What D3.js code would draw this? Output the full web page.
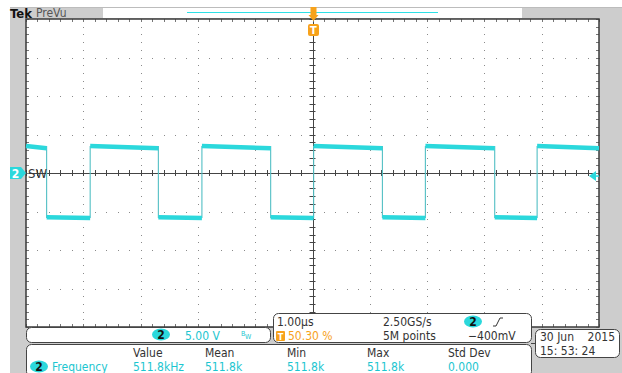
<!DOCTYPE html>
<html>
<head>
<meta charset="utf-8">
<script src="https://cdn.jsdelivr.net/npm/d3@7"></script>
<style>
  html, body { margin: 0; padding: 0; background: #fff; }
  svg { display: block; }
  text { font-family: "DejaVu Sans Condensed", "Liberation Sans Narrow", "DejaVu Sans", sans-serif; font-stretch: condensed; }
</style>
</head>
<body>
<svg id="scope" width="622" height="373"></svg>
<script>
// ---- acquisition: channel 2 (SW node), 1.00 µs/div, 5.00 V/div ----
const timeDomain = [-5, 5];          // µs, 10 horizontal divisions
const voltDomain = [-20, 20];        // V, 8 vertical divisions at 5 V/div
const fallTimes = [-4.64, -2.69, -0.73, 1.22, 3.18];   // µs
const riseTimes = [-3.88, -1.93, 0.02, 1.97, 3.92];    // µs
const highStartV = 3.5, highEndV = 3.2;                // V, top of pulse (slight droop)
const lowStartV = -5.75, lowEndV = -5.85;              // V, bottom of pulse
const triggerLevelV = -0.4;                            // V
const triggerTime = 0;                                 // µs

// ---- readouts ----
const measHeaders = ["Value", "Mean", "Min", "Max", "Std Dev"];
const measValues = ["511.8kHz", "511.8k", "511.8k", "511.8k", "0.000"];
const measName = "Frequency";
const chScale = "5.00 V";
const timebase = ["1.00\u00b5s", "50.30 %"];
const sampling = ["2.50GS/s", "5M points"];
const trigReadout = "\u2212400mV";
const dateLines = [["30 Jun", "2015"], ["15: 53: 24"]];

const W = 622, H = 373;
const plot = { left: 26, right: 599, top: 19, bottom: 327 };
const CYAN = "#2bd8dc", CYAN_TXT = "#1cc6d0", ORANGE = "#f7a21b", GRAY = "#cdcdcd", FRAME = "#3a3a3a";

const svg = d3.select("#scope");
const x = d3.scaleLinear().domain(timeDomain).range([plot.left, plot.right]);
const y = d3.scaleLinear().domain(voltDomain).range([plot.bottom, plot.top]);

// instrument background
svg.append("rect").attr("x", 10).attr("y", 7).attr("width", W - 10).attr("height", H - 7).attr("fill", GRAY);
svg.append("line").attr("x1", 10).attr("x2", W).attr("y1", 7.5).attr("y2", 7.5).attr("stroke", "#bcbcbc");

// header: record view bar
svg.append("rect").attr("x", 103).attr("y", 8).attr("width", 419).attr("height", 10).attr("fill", "#fff");
svg.append("line").attr("x1", 187).attr("x2", 438).attr("y1", 12.5).attr("y2", 12.5).attr("stroke", "#2ee0e6").attr("stroke-width", 1.2);
svg.append("text").attr("x", 10).attr("y", 17.5).attr("font-size", 13).attr("font-weight", "bold")
  .attr("font-family", "Liberation Serif, serif").attr("fill", "#111").text("Tek");
svg.append("text").attr("x", 36).attr("y", 17).attr("font-size", 12).attr("fill", "#555").text("PreVu");

// graticule area
svg.append("rect").attr("x", plot.left).attr("y", plot.top).attr("width", plot.right - plot.left)
  .attr("height", plot.bottom - plot.top).attr("fill", "#fff");

const g = svg.append("g");
const minorX = d3.range(0, 51).map(i => timeDomain[0] + i * 0.2);
const minorY = d3.range(0, 41).map(i => voltDomain[0] + i * 1);
const majorX = d3.range(-4, 5).filter(v => v !== 0);
const majorY = d3.range(-15, 20, 5).filter(v => v !== 0);

// dotted grid
majorX.forEach(t => {
  g.selectAll(null).data(minorY).enter().append("rect")
    .attr("x", Math.round(x(t))).attr("y", d => Math.round(y(d))).attr("width", 1).attr("height", 1).attr("fill", "#8a8a8a");
});
majorY.forEach(v => {
  g.selectAll(null).data(minorX).enter().append("rect")
    .attr("x", d => Math.round(x(d))).attr("y", Math.round(y(v))).attr("width", 1).attr("height", 1).attr("fill", "#8a8a8a");
});

// centre cross with minor ticks
g.append("line").attr("x1", plot.left).attr("x2", plot.right).attr("y1", Math.round(y(0)) + 0.5).attr("y2", Math.round(y(0)) + 0.5).attr("stroke", "#444");
g.append("line").attr("y1", plot.top).attr("y2", plot.bottom).attr("x1", Math.round(x(0)) + 0.5).attr("x2", Math.round(x(0)) + 0.5).attr("stroke", "#444");
g.selectAll(null).data(minorX).enter().append("line")
  .attr("x1", d => Math.round(x(d)) + 0.5).attr("x2", d => Math.round(x(d)) + 0.5)
  .attr("y1", y(0) - 3).attr("y2", y(0) + 3).attr("stroke", "#444");
g.selectAll(null).data(minorY).enter().append("line")
  .attr("y1", d => Math.round(y(d)) + 0.5).attr("y2", d => Math.round(y(d)) + 0.5)
  .attr("x1", x(0) - 3).attr("x2", x(0) + 3).attr("stroke", "#444");

// border ticks
g.selectAll(null).data(minorX).enter().append("line")
  .attr("x1", d => Math.round(x(d)) + 0.5).attr("x2", d => Math.round(x(d)) + 0.5)
  .attr("y1", plot.top).attr("y2", plot.top + 3).attr("stroke", "#777");
g.selectAll(null).data(minorX).enter().append("line")
  .attr("x1", d => Math.round(x(d)) + 0.5).attr("x2", d => Math.round(x(d)) + 0.5)
  .attr("y1", plot.bottom - 3).attr("y2", plot.bottom).attr("stroke", "#777");
g.selectAll(null).data(minorY).enter().append("line")
  .attr("y1", d => Math.round(y(d)) + 0.5).attr("y2", d => Math.round(y(d)) + 0.5)
  .attr("x1", plot.left).attr("x2", plot.left + 3).attr("stroke", "#777");
g.selectAll(null).data(minorY).enter().append("line")
  .attr("y1", d => Math.round(y(d)) + 0.5).attr("y2", d => Math.round(y(d)) + 0.5)
  .attr("x1", plot.right - 3).attr("x2", plot.right).attr("stroke", "#777");

// frame
g.append("rect").attr("x", plot.left).attr("y", plot.top).attr("width", plot.right - plot.left)
  .attr("height", plot.bottom - plot.top).attr("fill", "none").attr("stroke", FRAME).attr("stroke-width", 1.5);

// ---- waveform ----
const edges = fallTimes.map(t => ({ t, type: "fall" })).concat(riseTimes.map(t => ({ t, type: "rise" })))
  .sort((a, b) => a.t - b.t);
const bounds = [timeDomain[0]].concat(edges.map(e => e.t), [timeDomain[1]]);
const segments = [];
for (let i = 0; i < bounds.length - 1; i++) {
  const high = i === 0 ? true : edges[i - 1].type === "rise";
  segments.push({ t0: bounds[i], t1: bounds[i + 1], high });
}
const wave = svg.append("g");
wave.selectAll(null).data(edges).enter().append("line")
  .attr("x1", d => x(d.t)).attr("x2", d => x(d.t))
  .attr("y1", y(highStartV)).attr("y2", y(lowEndV))
  .attr("stroke", "#52bfc4").attr("stroke-width", 1.1);
wave.selectAll(null).data(segments).enter().append("line")
  .attr("x1", d => x(d.t0)).attr("x2", d => x(d.t1))
  .attr("y1", d => y(d.high ? highStartV : lowStartV)).attr("y2", d => y(d.high ? highEndV : lowEndV))
  .attr("stroke", CYAN).attr("stroke-width", 4.5);

// ---- markers ----
// channel 2 ground reference
const gy = y(0);
svg.append("path").attr("d", `M10,${gy - 6}H21L26,${gy}L21,${gy + 6}H10Z`).attr("fill", CYAN);
svg.append("text").attr("x", 15.5).attr("y", gy + 4.5).attr("text-anchor", "middle").attr("font-size", 12).attr("font-weight", "bold").attr("fill", "#fff").text("2");
svg.append("text").attr("x", 28).attr("y", gy + 5).attr("font-size", 13).attr("fill", "#333").text("SW");

// trigger level arrow
const ty = y(triggerLevelV);
svg.append("path").attr("d", `M589,${ty}L596,${ty - 5}V${ty + 5}Z`).attr("fill", CYAN);
svg.append("line").attr("x1", 594).attr("x2", 599).attr("y1", ty).attr("y2", ty).attr("stroke", CYAN).attr("stroke-width", 1.5);

// trigger position
const tx = Math.round(x(triggerTime)) + 0.5;
svg.append("path").attr("d", `M${tx - 3},7H${tx + 3}V15L${tx + 5},15L${tx},21L${tx - 5},15H${tx - 3}Z`).attr("fill", ORANGE);
svg.append("rect").attr("x", tx - 5.5).attr("y", 24).attr("width", 11).attr("height", 12).attr("rx", 2).attr("fill", ORANGE);
svg.append("text").attr("x", tx).attr("y", 34).attr("text-anchor", "middle").attr("font-size", 11).attr("font-weight", "bold").attr("fill", "#fff").text("T");

// ---- readout boxes ----
function box(x0, y0, w, h) {
  svg.append("rect").attr("x", x0 + 0.5).attr("y", y0 + 0.5).attr("width", w).attr("height", h).attr("rx", 5)
    .attr("fill", "#fff").attr("stroke", "#444").attr("stroke-width", 1);
}
function badge(cx, cy, label) {
  svg.append("ellipse").attr("cx", cx).attr("cy", cy).attr("rx", 9).attr("ry", 6).attr("fill", CYAN);
  svg.append("text").attr("x", cx).attr("y", cy + 4.5).attr("text-anchor", "middle").attr("font-size", 12).attr("font-weight", "bold").attr("fill", "#111").text(label);
}
function txt(x0, y0, s, fill, anchor) {
  return svg.append("text").attr("x", x0).attr("y", y0).attr("font-size", 12).attr("fill", fill || "#333")
    .attr("text-anchor", anchor || "start").text(s);
}

// channel box
box(26, 327, 244, 15);
badge(161, 334.5, "2");
txt(185, 339.5, chScale, CYAN_TXT);
svg.append("text").attr("x", 241).attr("y", 336).attr("font-size", 7).attr("fill", CYAN_TXT).text("B");
svg.append("text").attr("x", 245).attr("y", 339).attr("font-size", 7).attr("fill", CYAN_TXT).text("W");

// timebase box
box(273, 313, 258, 29);
txt(277, 326, timebase[0]);
svg.append("rect").attr("x", 276).attr("y", 331).attr("width", 9).attr("height", 10).attr("rx", 1).attr("fill", ORANGE);
svg.append("text").attr("x", 280.5).attr("y", 339.5).attr("text-anchor", "middle").attr("font-size", 9).attr("font-weight", "bold").attr("fill", "#fff").text("T");
txt(288, 340, timebase[1], ORANGE);
txt(383, 326, sampling[0]);
txt(383, 340, sampling[1]);
badge(473, 321.5, "2");
svg.append("path").attr("d", "M493,326H496L500,318H503").attr("fill", "none").attr("stroke", "#333").attr("stroke-width", 1);
txt(468, 340, trigReadout);

// measurement box
box(26, 344, 505, 32);
const colX = [133, 205, 287, 367, 448];
measHeaders.forEach((h, i) => txt(colX[i], 357, h));
measValues.forEach((v, i) => txt(colX[i], 370.5, v, CYAN_TXT));
badge(39, 366.5, "2");
txt(52, 370.5, measName, CYAN_TXT);

// date box
box(535, 329, 84, 28);
svg.append("line").attr("x1", 531).attr("x2", 536).attr("y1", 343.5).attr("y2", 343.5).attr("stroke", "#444");
txt(540, 341, dateLines[0][0]);
txt(615, 341, dateLines[0][1], "#333", "end");
txt(540, 355, dateLines[1][0]);
</script>
</body>
</html>
